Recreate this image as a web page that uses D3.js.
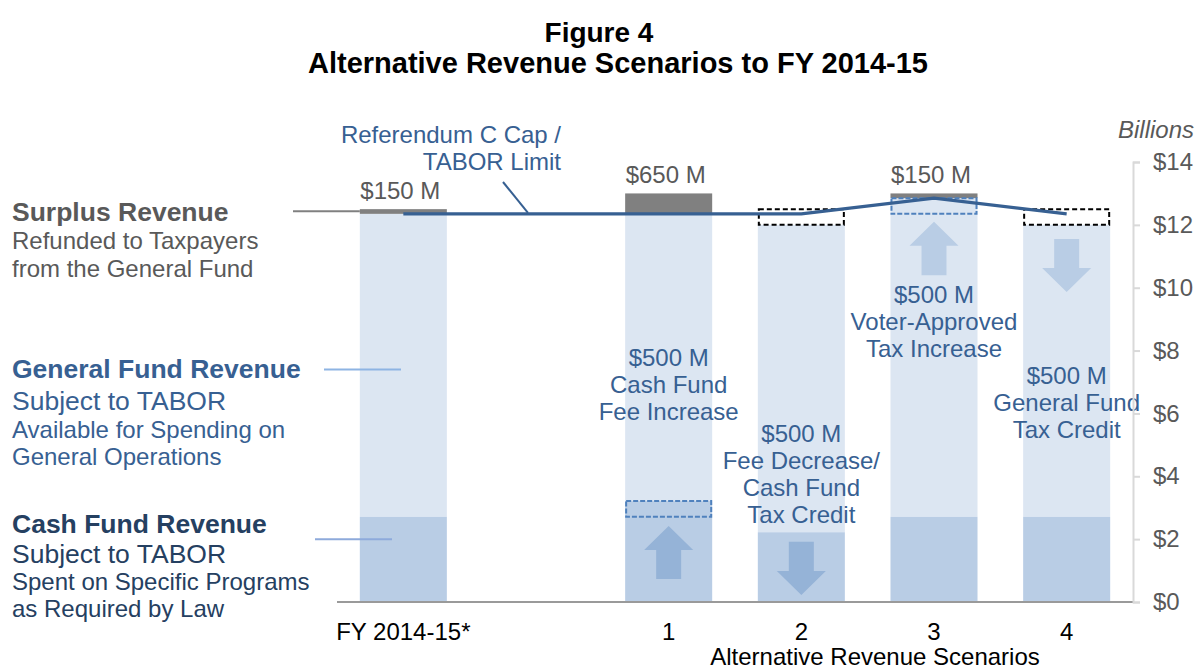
<!DOCTYPE html>
<html><head><meta charset="utf-8">
<script src="https://cdn.jsdelivr.net/npm/d3@7"></script>
<style>
body{margin:0;background:#fff;}
svg{font-family:"Liberation Sans",Arial,sans-serif;}
</style></head>
<body><svg id="c" width="1195" height="670"></svg>
<script>
// ---- data ----
const categories = ["FY 2014-15*", " ", "1", "2", "3", "4"];
const cashFund    = [2.71, null, 3.21, 2.22, 2.71, 2.71];
const generalFund = [9.64, null, 9.14, 9.78, 10.14, 9.29];
const surplus     = [0.15, null, 0.65, 0, 0.15, 0];
const capLimit    = [12.35, null, 12.35, 12.35, 12.85, 12.35];
const surplusLabels = ["$150 M", null, "$650 M", null, "$150 M", null];
const yTicks = [0, 2, 4, 6, 8, 10, 12, 14];
const dashedBoxes = [
  {cat: "1", y0: 2.71, y1: 3.21, kind: "blue"},
  {cat: "2", y0: 12.0, y1: 12.5, kind: "black"},
  {cat: "3", y0: 12.35, y1: 12.85, kind: "blue"},
  {cat: "4", y0: 12.0, y1: 12.5, kind: "black"}
];
const arrows = [
  {cat: "1", from: 0.73, to: 2.42},
  {cat: "2", from: 1.92, to: 0.22},
  {cat: "3", from: 10.4, to: 12.1},
  {cat: "4", from: 11.55, to: 9.86}
];
const scenarioNotes = [
  {cat: "1", y: 366, lines: ["$500 M", "Cash Fund", "Fee Increase"]},
  {cat: "2", y: 442, lines: ["$500 M", "Fee Decrease/", "Cash Fund", "Tax Credit"]},
  {cat: "3", y: 303, lines: ["$500 M", "Voter-Approved", "Tax Increase"]},
  {cat: "4", y: 384, lines: ["$500 M", "General Fund", "Tax Credit"]}
];

// ---- setup ----
const svg = d3.select("#c");
const x = d3.scaleBand().domain(categories).range([337, 1133]).paddingInner(0.344).paddingOuter(0.172);
const y = d3.scaleLinear().domain([0, 14]).range([602, 162]);
const bw = x.bandwidth();

const C = {gf:"#dce6f2", cash:"#b9cde5", arrowDark:"#95b3d7", arrowLight:"#b9cde5", sur:"#808080",
  blue:"#376092", navy:"#254061", gray:"#595959"};

// title
svg.append("text").attr("x", 599).attr("y", 42).attr("text-anchor","middle")
  .attr("font-size", 28).attr("font-weight","bold").attr("fill","#000").text("Figure 4");
svg.append("text").attr("x", 618).attr("y", 73).attr("text-anchor","middle")
  .attr("font-size", 29).attr("font-weight","bold").attr("fill","#000").text("Alternative Revenue Scenarios to FY 2014-15");

// bars
const rows = categories.map((c,i)=>({c, cash:cashFund[i], gf:generalFund[i], sur:surplus[i]})).filter(d=>d.cash!=null);
const g = svg.append("g");
g.selectAll(".gf").data(rows).join("rect")
  .attr("x", d=>x(d.c)).attr("width", bw)
  .attr("y", d=>y(d.cash+d.gf)).attr("height", d=>y(d.cash)-y(d.cash+d.gf)).attr("fill", C.gf);
g.selectAll(".cash").data(rows).join("rect")
  .attr("x", d=>x(d.c)).attr("width", bw)
  .attr("y", d=>y(d.cash)).attr("height", d=>y(0)-y(d.cash)).attr("fill", C.cash);
g.selectAll(".sur").data(rows.filter(d=>d.sur>0)).join("rect")
  .attr("x", d=>x(d.c)).attr("width", bw)
  .attr("y", d=>y(d.cash+d.gf+d.sur)).attr("height", d=>y(d.cash+d.gf)-y(d.cash+d.gf+d.sur)).attr("fill", C.sur);

// arrows
const headH = 24, headW = 49, stemW = 25;
arrows.forEach(a=>{
  const i = categories.indexOf(a.cat);
  const inCash = Math.min(a.from,a.to) < cashFund[i];
  const cx = x(a.cat)+bw/2, y0 = y(a.from), y1 = y(a.to);
  const dir = y1 < y0 ? -1 : 1; // -1 up
  const hb = y1 - dir*headH;
  const p = d3.path();
  p.moveTo(cx-stemW/2, y0); p.lineTo(cx-stemW/2, hb); p.lineTo(cx-headW/2, hb);
  p.lineTo(cx, y1); p.lineTo(cx+headW/2, hb); p.lineTo(cx+stemW/2, hb); p.lineTo(cx+stemW/2, y0); p.closePath();
  svg.append("path").attr("d", p.toString()).attr("fill", inCash ? C.arrowDark : C.arrowLight);
});

// dashed boxes
svg.selectAll(".db").data(dashedBoxes).join("rect")
  .attr("x", d=>x(d.cat)+1).attr("width", bw-2)
  .attr("y", d=>y(d.y1)).attr("height", d=>y(d.y0)-y(d.y1))
  .attr("fill","none").attr("stroke", d=>d.kind==="blue"?"#4f81bd":"#000")
  .attr("stroke-width", 2).attr("stroke-dasharray", d=>d.kind==="blue"?"5,2":"5,3");

// baseline
svg.append("line").attr("x1", 337).attr("x2", 1133).attr("y1", y(0)).attr("y2", y(0))
  .attr("stroke", "#9a9a9a").attr("stroke-width", 2);

// cap line
const capPts = categories.map((c,i)=>({c, v:capLimit[i]})).filter(d=>d.v!=null);
svg.append("path").datum(capPts)
  .attr("d", d3.line().x(d=>x(d.c)+bw/2).y(d=>y(d.v)))
  .attr("fill","none").attr("stroke", C.blue).attr("stroke-width", 3.2);

// surplus labels
categories.forEach((c,i)=>{
  if(!surplusLabels[i]) return;
  const top = cashFund[i]+generalFund[i]+surplus[i];
  svg.append("text").attr("x", x(c)+bw/2-3).attr("y", y(top)-10).attr("text-anchor","middle")
    .attr("font-size", 24).attr("fill", C.gray).text(surplusLabels[i]);
});

// scenario notes
scenarioNotes.forEach(n=>{
  const t = svg.append("text").attr("text-anchor","middle").attr("font-size", 24).attr("fill", C.blue);
  n.lines.forEach((l,k)=>t.append("tspan").attr("x", x(n.cat)+bw/2).attr("y", n.y + k*27).text(l));
});

// referendum label
const ref = svg.append("text").attr("text-anchor","end").attr("font-size", 24).attr("fill", C.blue);
ref.append("tspan").attr("x", 561).attr("y", 143).text("Referendum C Cap /");
ref.append("tspan").attr("x", 561).attr("y", 170).text("TABOR Limit");
svg.append("line").attr("x1", 503).attr("y1", 182).attr("x2", 528).attr("y2", y(capLimit[0])-1)
  .attr("stroke", C.blue).attr("stroke-width", 2);

// left legend texts
function block(lines){
  lines.forEach(l=>{
    svg.append("text").attr("x", 12).attr("y", l.y).attr("font-size", l.s)
      .attr("font-weight", l.b?"bold":"normal").attr("fill", l.c).text(l.t);
  });
}
block([
  {t:"Surplus Revenue", y:221, s:26.5, b:true, c:C.gray},
  {t:"Refunded to Taxpayers", y:249, s:24, c:C.gray},
  {t:"from the General Fund", y:277, s:24, c:C.gray},
  {t:"General Fund Revenue", y:378, s:26.5, b:true, c:C.blue},
  {t:"Subject to TABOR", y:410, s:26.5, c:C.blue},
  {t:"Available for Spending on", y:438, s:24, c:C.blue},
  {t:"General Operations", y:465, s:24, c:C.blue},
  {t:"Cash Fund Revenue", y:533, s:26.5, b:true, c:C.navy},
  {t:"Subject to TABOR", y:563, s:26.5, c:C.navy},
  {t:"Spent on Specific Programs", y:590, s:24, c:C.navy},
  {t:"as Required by Law", y:617, s:24, c:C.navy}
]);
// leader lines
svg.append("line").attr("x1", 293).attr("x2", x(categories[0])).attr("y1", y(12.43)).attr("y2", y(12.43))
  .attr("stroke", "#808080").attr("stroke-width", 2);
svg.append("line").attr("x1", 324).attr("x2", 401).attr("y1", y(7.4)).attr("y2", y(7.4))
  .attr("stroke", "#8eb4e3").attr("stroke-width", 2);
svg.append("line").attr("x1", 315).attr("x2", 392).attr("y1", y(2.0)).attr("y2", y(2.0))
  .attr("stroke", "#8eaadb").attr("stroke-width", 2);

// y axis
const ya = svg.append("g").attr("transform", "translate(1133,0)")
  .call(d3.axisRight(y).tickValues(yTicks).tickFormat(d=>"$"+d).tickSize(7).tickPadding(13));
ya.select(".domain").attr("stroke", "#d9d9d9").attr("stroke-width", 2);
ya.selectAll(".tick line").attr("stroke", "#d9d9d9").attr("stroke-width", 2);
ya.selectAll(".tick text").attr("font-size", 24).attr("fill", C.gray).attr("font-family", "Liberation Sans, Arial");
svg.append("text").attr("x", 1194).attr("y", 138).attr("text-anchor","end").attr("font-size", 24)
  .attr("font-style","italic").attr("fill", C.gray).text("Billions");

// x axis
const xa = svg.append("g").attr("transform", `translate(0,${y(0)})`)
  .call(d3.axisBottom(x).tickSize(0).tickPadding(21));
xa.select(".domain").remove();
xa.selectAll(".tick text").attr("font-size", 24).attr("fill", "#000").attr("font-family", "Liberation Sans, Arial");
svg.append("text").attr("x", 875).attr("y", 665).attr("text-anchor","middle").attr("font-size", 24)
  .attr("fill","#000").text("Alternative Revenue Scenarios");
</script></body></html>
